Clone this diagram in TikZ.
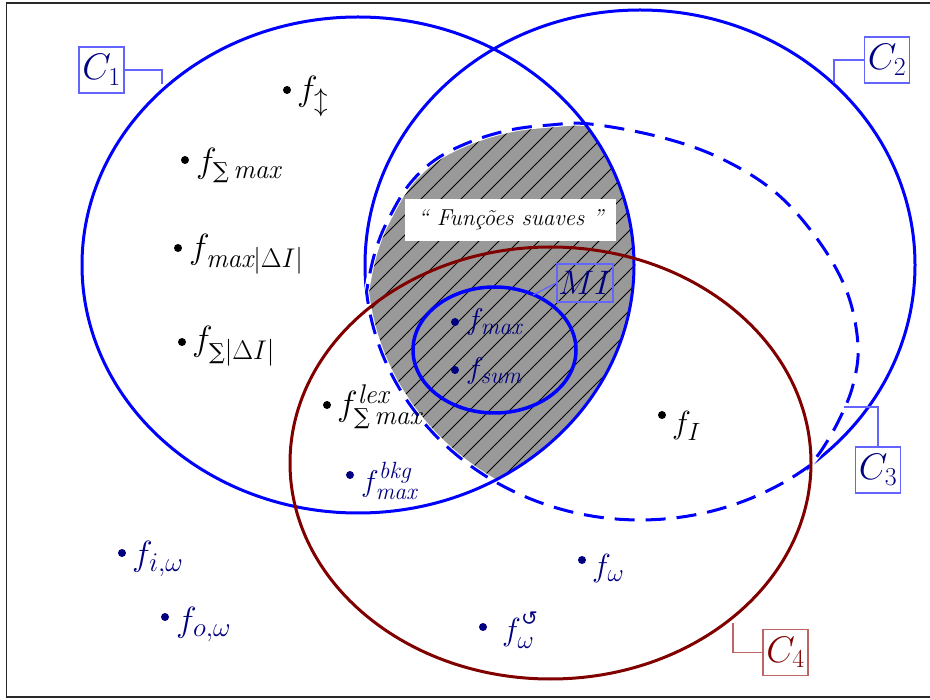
\RequirePackage{fix-cm}
\documentclass[tikz,border=0pt]{standalone}
\usepackage{fontspec}
\newfontfamily\dejavu{DejaVu Sans}
\newfontfamily\dejavuserif{DejaVu Serif}
\DeclareMathSizes{35}{35}{27}{20}
\DeclareMathSizes{32}{32}{25}{18}
\DeclareMathSizes{30}{30}{23.5}{17}
\newcommand{\bigsum}[1][22]{\mbox{\fontsize{#1}{#1}\selectfont\dejavuserif ∑}}
\definecolor{navyc}{RGB}{0,0,128}
\definecolor{cblue}{RGB}{0,0,255}
\definecolor{boxblue}{RGB}{100,100,255}
\definecolor{dred}{RGB}{128,0,0}
\definecolor{boxred}{RGB}{190,100,100}
\definecolor{hatchgray}{RGB}{153,153,153}
\definecolor{framec}{RGB}{40,40,40}
\def\cthree{plot[domain=52:174,samples=70] ({640+275*cos(\x)},{265+255*sin(\x)}) -- plot[smooth,tension=0.6] coordinates {(366.5,291.7) (371,268) (377,246) (387,222) (408,186) (435,160) (470,142) (510,130) (550,125) (590,124) (660,137) (720,158) (775,192) (818,240) (847,292) (858,345) (853,385) (840,418) (823,448) (809.3,466)} -- cycle}
\begin{document}
\begin{tikzpicture}[x=1pt,y=-1pt,
  cline/.style={cblue,line width=3pt},
  hatchline/.style={black,line width=0.8pt},
  leadb/.style={boxblue,line width=1.3pt},
  leadr/.style={boxred,line width=1.3pt},
  cbox/.style={draw=boxblue,line width=1.2pt,text=navyc,minimum width=45pt,minimum height=46pt,inner sep=0pt,font=\fontsize{37}{40}\selectfont},
  dotk/.style={circle,fill=black,inner sep=0pt,minimum size=8pt},
  dotn/.style={circle,fill=navyc,inner sep=0pt,minimum size=8pt},
  flab/.style={anchor=base west,inner sep=0pt},
  fbig/.style={flab,font=\fontsize{35}{40}\selectfont},
  fmid/.style={flab,font=\fontsize{32}{36}\selectfont},
  fsml/.style={flab,font=\fontsize{30}{34}\selectfont}]
\useasboundingbox (0,0) rectangle (930,700);
% frame
\draw[framec,line width=1.6pt] (960,3) -- (6.5,3) -- (6.5,697) -- (960,697);
% shaded region C1 n C3
\begin{scope}
  \clip (358,265) ellipse [x radius=276, y radius=248];
  \clip \cthree;
  \fill[hatchgray] (300,80) rectangle (720,540);
  \foreach \k in {-40,...,30} \draw[hatchline] (200+\k*20,600) -- ++(600,-600);
\end{scope}
% C2
\draw[cline] (640,265) ellipse [x radius=275, y radius=255];
% C3 dashed
\draw[white,line width=5pt] \cthree;
\draw[cline,dash pattern=on 20pt off 11pt] \cthree;
% C1
\draw[cline] (358,265) ellipse [x radius=276, y radius=248];
% C4
\draw[dred,line width=3pt] (550.5,463) ellipse [x radius=260.5, y radius=216];
% MI
\draw[cblue,line width=3.5pt] (494.5,350) ellipse [x radius=81.5, y radius=63];
% smooth functions box
\node[fill=white,minimum width=211pt,minimum height=42pt,inner sep=0pt,font=\fontsize{23}{28}\selectfont\itshape] (suaves) at (510.5,220) {“ Funções suaves ”};
% labels of sets
\node[cbox] (c1lab) at (101.5,70) {$C_1$};
\node[cbox] (c2lab) at (887,60) {$C_2$};
\node[cbox] (c3lab) at (878,470) {$C_3$};
\node[cbox,draw=boxred,text=dred] (c4lab) at (785.5,652.5) {$C_4$};
\node[draw=boxblue,line width=1.2pt,text=navyc,minimum width=56pt,minimum height=38pt,inner sep=0pt,font=\fontsize{34}{38}\selectfont] (milab) at (585,283) {$MI$};
\coordinate (c1pt) at (162,84);
\coordinate (c2pt) at (834,83);
\coordinate (c3pt) at (844,407);
\coordinate (c4pt) at (733,623);
\coordinate (mipt) at (533,295);
\draw[leadb] (c1lab.east) -| (c1pt);
\draw[leadb] (c2lab.west) -| (c2pt);
\draw[leadb] (c3lab.north) |- (c3pt);
\draw[leadr] (c4lab.west) -| (c4pt);
\draw[leadb] (milab.west) -- (mipt);
% functions
\node[dotk] (d1) at (287,90) {};
\node[fbig] (l1) at (297,101) {$f_{\updownarrow}$};
\node[dotk] (d2) at (185,160) {};
\node[fbig] (l2) at (196,173) {$f_{\bigsum\,\mathit{max}}$};
\node[dotk] (d3) at (178,248) {};
\node[fbig] (l3) at (189,259) {$f_{\mathit{max}|\Delta I|}$};
\node[dotk] (d4) at (182,342) {};
\node[fbig] (l4) at (192,351) {$f_{\bigsum|\Delta I|}$};
\node[dotk] (d5) at (327,405) {};
\node[fbig] (l5) at (337,416) {$f^{\mathit{lex}}_{\bigsum\,\mathit{max}}$};
\node[dotn] (d6) at (350,475) {};
\node[fsml,text=navyc] (l6) at (361,492) {$f^{\raisebox{3pt}{$\scriptstyle\mathit{bkg}$}}_{\mathit{max}}$};
\node[dotn] (d7) at (455,322) {};
\node[fsml,text=navyc] (l7) at (466,330) {$f_{\mathit{max}}$};
\node[dotn] (d8) at (455,370) {};
\node[fsml,text=navyc] (l8) at (466,379) {$f_{\mathit{sum}}$};
\node[dotk] (d9) at (662,415) {};
\node[fmid] (l9) at (672,434) {$f_{I}$};
\node[dotn] (d10) at (122,553) {};
\node[fbig,text=navyc] (l10) at (132,566) {$f_{i,\omega}$};
\node[dotn] (d11) at (165,617) {};
\node[fbig,text=navyc] (l11) at (176,631) {$f_{o,\omega}$};
\node[dotn] (d12) at (582,560) {};
\node[fmid,text=navyc] (l12) at (592,577) {$f_{\omega}$};
\node[dotn] (d13) at (483,627) {};
\node[fmid,text=navyc] (l13) at (502,641) {$f^{\raisebox{4pt}{\fontsize{20}{22}\dejavu ↺}}_{\omega}$};
\end{tikzpicture}
\end{document}
